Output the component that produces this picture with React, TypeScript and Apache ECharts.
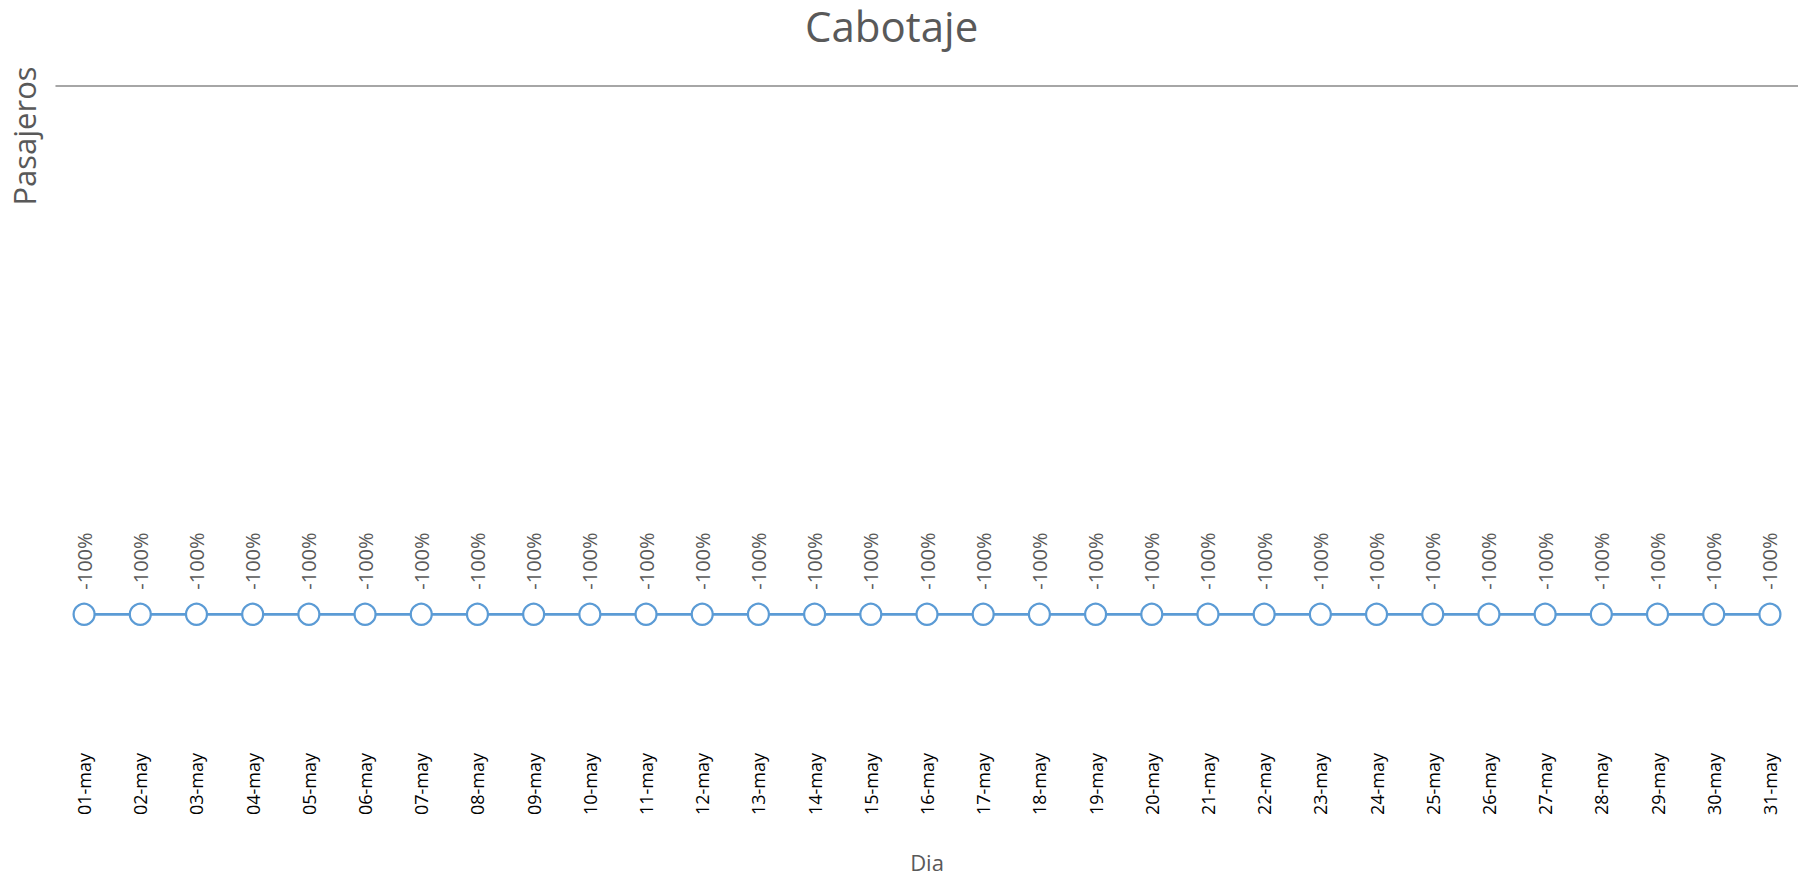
import React, { useEffect, useRef } from "react";
import * as echarts from "echarts";

const categories = [
  "01-may", "02-may", "03-may", "04-may", "05-may", "06-may", "07-may", "08-may",
  "09-may", "10-may", "11-may", "12-may", "13-may", "14-may", "15-may", "16-may",
  "17-may", "18-may", "19-may", "20-may", "21-may", "22-may", "23-may", "24-may",
  "25-may", "26-may", "27-may", "28-may", "29-may", "30-may", "31-may",
];

const variation = [
  -1, -1, -1, -1, -1, -1, -1, -1, -1, -1, -1, -1, -1, -1, -1, -1,
  -1, -1, -1, -1, -1, -1, -1, -1, -1, -1, -1, -1, -1, -1, -1,
];

const titleText = "Cabotaje";
const yTitle = "Pasajeros";
const xTitle = "Dia";

export default function App() {
  const ref = useRef<HTMLDivElement>(null);

  useEffect(() => {
    if (!ref.current) return;
    const chart = echarts.init(ref.current, undefined, { renderer: "svg" });
    const font = "'Open Sans', 'Noto Sans', sans-serif";
    chart.setOption({
      animation: false,
      backgroundColor: "#ffffff",
      title: {
        text: titleText,
        left: 800,
        top: 3,
        padding: [0, 5, 5, 5],
        textStyle: { fontFamily: font, fontSize: 42, lineHeight: 44, fontWeight: "normal", color: "#595959" },
      },
      graphic: [
        {
          type: "text",
          x: 24,
          y: 136,
          rotation: Math.PI / 2,
          style: {
            text: yTitle,
            fontFamily: font,
            fontSize: 31,
            fill: "#595959",
            textAlign: "center",
            textVerticalAlign: "middle",
          },
        },
      ],
      grid: { left: 56, right: 0, top: 86, bottom: 151, containLabel: false },
      xAxis: [
        {
          type: "category",
          data: categories,
          position: "bottom",
          boundaryGap: true,
          axisLine: { show: false },
          axisTick: { show: false },
          axisLabel: {
            rotate: 90,
            margin: 33,
            interval: 0,
            fontFamily: font,
            fontSize: 18,
            color: "#000000",
          },
          name: xTitle,
          nameLocation: "middle",
          nameGap: 131,
          nameTextStyle: { fontFamily: font, fontSize: 22, color: "#595959" },
        },
        {
          type: "category",
          data: categories,
          position: "top",
          boundaryGap: true,
          axisLine: { show: true, onZero: false, lineStyle: { color: "#898989", width: 1.5 } },
          axisTick: { show: false },
          axisLabel: { show: false },
        },
      ],
      yAxis: {
        type: "value",
        min: -1.2,
        max: 0,
        show: false,
        splitLine: { show: false },
      },
      series: [
        {
          type: "line",
          xAxisIndex: 0,
          data: variation,
          symbol: "circle",
          symbolSize: 21,
          lineStyle: { color: "#5B9BD5", width: 2.75 },
          itemStyle: { color: "#ffffff", borderColor: "#5B9BD5", borderWidth: 2.25 },
          label: {
            show: true,
            position: "top",
            distance: 13,
            rotate: 90,
            align: "left",
            verticalAlign: "middle",
            fontFamily: font,
            fontSize: 20,
            color: "#595959",
            formatter: (p: any) => `${Math.round(p.value * 100)}%`,
          },
        },
      ],
    });
    return () => chart.dispose();
  }, []);

  return (
    <div
      ref={ref}
      style={{ position: "absolute", left: 0, top: 0, width: 1798, height: 878 }}
    />
  );
}
